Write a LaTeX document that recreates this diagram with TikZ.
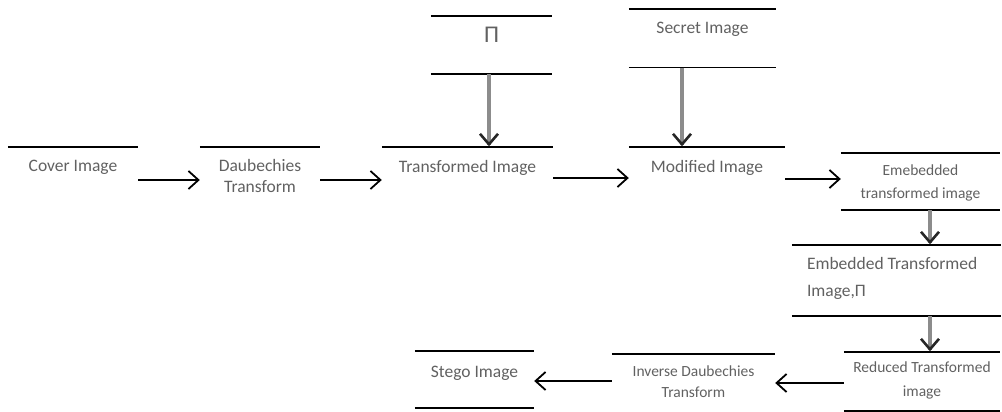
\documentclass[tikz,border=0pt]{standalone}
\usepackage{fontspec}
\setmainfont{Carlito}
\usepackage{xcolor}
\colorlet{colorText}{black!62}
\colorlet{colorFeed}{black!45}
\colorlet{colorTip}{black!85}
\usepackage{tikz}
\usetikzlibrary{arrows.meta, positioning}
\tikzset{
  box/.style={rectangle, inner sep=0pt, minimum height=58pt},
  lbl/.style={anchor=north, align=center, text=colorText, font=\fontsize{17.5}{21}\selectfont, inner sep=0pt},
  rule/.style={line width=1.6pt},
  flow/.style={->, line width=2.6pt},
  feed/.style={line width=3.5pt, draw=colorFeed},
  tip/.style={line width=2.6pt, draw=colorTip, line join=miter}
}

\begin{document}
\begin{tikzpicture}[x=1pt, y=-1pt, >={Straight Barb[length=10pt,width=18pt,line width=1.8pt]}]
\useasboundingbox (0,0) rectangle (1002,412);

% boxes
\node[box, minimum width=121pt] (pi) at (491.5,45) {};
\node[box, minimum width=147pt] (secret) at (702.5,38.5) {};
\node[box, minimum width=130pt] (cover) at (73,176) {};
\node[box, minimum width=120pt] (daub) at (260,176) {};
\node[box, minimum width=171pt] (trans) at (467.5,176) {};
\node[box, minimum width=156pt] (modif) at (707,176) {};
\node[box, minimum width=159pt, minimum height=57pt] (emb) at (920.5,181.5) {};
\node[box, minimum width=209pt, minimum height=71pt] (embpi) at (896.5,280.5) {};
\node[box, minimum width=156pt, minimum height=59pt] (reduced) at (922,381.5) {};
\node[box, minimum width=163pt, minimum height=57pt] (inverse) at (693.5,382.5) {};
\node[box, minimum width=119pt, minimum height=57pt] (stego) at (474.5,379.5) {};

% texts
\node[lbl, below=11pt of pi.north, font=\fontsize{24}{26}\selectfont] (piT) {Π};
\node[lbl, below=13pt of secret.north] (secretT) {Secret Image};
\node[lbl, below=13pt of cover.north] (coverT) {Cover Image};
\node[lbl, below=12pt of daub.north] (daubT) {Daubechies\\Transform};
\node[lbl, below=13pt of trans.north] (transT) {Transformed Image};
\node[lbl, below=13pt of modif.north] (modifT) {Modified Image};
\node[lbl, below=12pt of emb.north, font=\fontsize{15.5}{23}\selectfont] (embT) {Emebedded\\transformed image};
\node[lbl, anchor=north west, align=left, below right=12pt and 15pt of embpi.north west, font=\fontsize{17.5}{27}\selectfont] (embpiT) {Embedded Transformed\\Image,Π};
\node[lbl, below=10pt of reduced.north, font=\fontsize{15.5}{24}\selectfont] (reducedT) {Reduced Transformed\\image};
\node[lbl, below=12pt of inverse.north, font=\fontsize{15.5}{21}\selectfont] (inverseT) {Inverse Daubechies\\Transform};
\node[lbl, below=15pt of stego.north] (stegoT) {Stego Image};

% rules above and below
\foreach \n in {pi, secret, cover, daub, trans, modif, emb, embpi, reduced, inverse, stego}
  \draw[rule] (\n.north west) -- (\n.north east);
\foreach \n in {pi, secret, emb, embpi, reduced, stego}
  \draw[rule] (\n.south west) -- (\n.south east);

% main flow
\draw[flow] ([yshift=-4pt]cover.east) -- ([yshift=-4pt]daub.west);
\draw[flow] ([yshift=-4pt]daub.east) -- ([yshift=-4pt]trans.west);
\draw[flow] ([yshift=-2pt]trans.east) -- ([yshift=-2pt]modif.west);
\draw[flow] ([yshift=-3pt]modif.east) -- ([yshift=2.5pt]emb.west);
\draw[flow] ([yshift=-1.5pt]reduced.west) -- ([yshift=-0.5pt]inverse.east);
\draw[flow] ([yshift=1.5pt]inverse.west) -- ([yshift=-1.5pt]stego.east);

% side inputs and the way down, gray shaft with a dark barb
\coordinate (pIn) at ([xshift=-2.5pt]pi.south);
\coordinate (sIn) at ([xshift=-20.5pt]secret.south);
\coordinate (eOut) at ([xshift=9.5pt]emb.south);
\coordinate (rIn) at (eOut |- embpi.south);
\foreach \a/\b in {pIn/trans, sIn/modif, eOut/embpi, rIn/reduced} {
  \draw[feed] (\a) -- ([yshift=2pt]\a |- \b.north);
  \draw[tip] ([xshift=-9pt,yshift=13pt]\a |- \b.north) -- ([yshift=2.5pt]\a |- \b.north) -- ([xshift=9pt,yshift=13pt]\a |- \b.north);
}
\end{tikzpicture}
\end{document}
